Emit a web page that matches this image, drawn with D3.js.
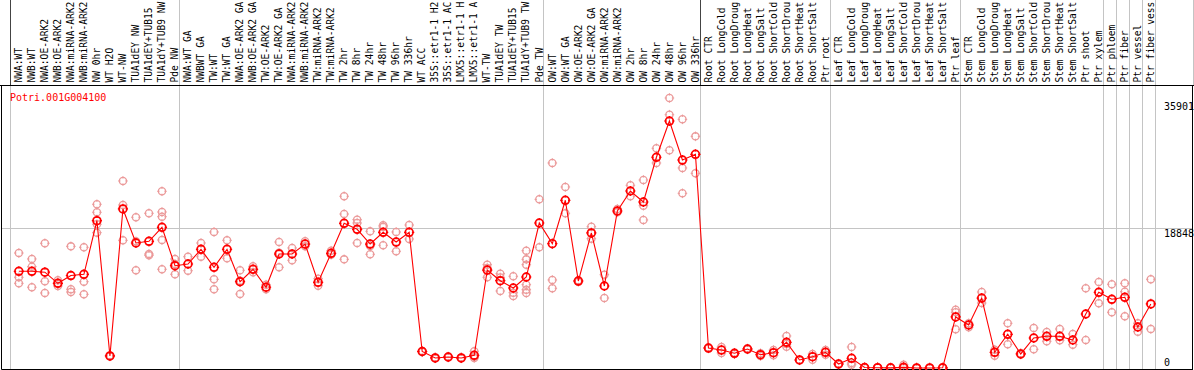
<!DOCTYPE html>
<html><head><meta charset="utf-8">
<script src="https://cdn.jsdelivr.net/npm/d3@7"></script>
<style>
body{margin:0;background:#fff;}
svg{display:block;}
text{font-family:"DejaVu Sans Mono","Liberation Mono",monospace;font-size:10px;}
</style>
</head><body>
<svg id="chart" width="1194" height="370"></svg>
<script>
const title = "Potri.001G004100";

const categories = [
"NWA:WT","NWB:WT","NWA:OE-ARK2","NWB:OE-ARK2","NWA:miRNA-ARK2","NWB:miRNA-ARK2","NW 0hr","WT H2O","WT-NW","TUA1dEY NW",
"TUA1dEY+TUB15 NW","TUA1dY+TUB9 NW","Pde NW",
"NWA:WT GA","NWBWT GA","TW:WT","TW:WT GA","NWA:OE-ARK2 GA","NWB:OE-ARK2 GA","TW:OE-ARK2","TW:OE-ARK2 GA",
"NWA:miRNA-ARK2 GA","NWB:miRNA-ARK2 GA","TW:miRNA-ARK2","TW:miRNA-ARK2 GA","TW 2hr","TW 8hr","TW 24hr","TW 48hr","TW 96hr","TW 336hr",
"WT ACC","35S::etr1-1 H2O","35S::etr1-1 ACC","LMX5::etr1-1 H2O","LMX5::etr1-1 ACC","WT-TW","TUA1dEY TW","TUA1dEY+TUB15 TW","TUA1dY+TUB9 TW","Pde TW",
"OW:WT","OW:WT GA","OW:OE-ARK2","OW:OE-ARK2 GA","OW:miRNA-ARK2","OW:miRNA-ARK2 GA","OW 2hr","OW 8hr","OW 24hr","OW 48hr","OW 96hr","OW 336hr",
"Root CTR","Root LongCold","Root LongDrought","Root LongHeat","Root LongSalt","Root ShortCold","Root ShortDrought","Root ShortHeat","Root ShortSalt","Ptr root",
"Leaf CTR","Leaf LongCold","Leaf LongDrought","Leaf LongHeat","Leaf LongSalt","Leaf ShortCold","Leaf ShortDrought","Leaf ShortHeat","Leaf ShortSalt","Ptr leaf",
"Stem CTR","Stem LongCold","Stem LongDrought","Stem LongHeat","Stem LongSalt","Stem ShortCold","Stem ShortDrought","Stem ShortHeat","Stem ShortSalt","Ptr shoot","Ptr xylem",
"Ptr phloem","Ptr fiber","Ptr vessel","Ptr fiber vessel"
];

const means = [
13020,13020,12900,11400,12450,12610,19830,1620,21410,16830,
17060,18940,13770,14000,15980,13560,15980,11620,13290,10870,
15350,15350,16690,11540,15440,19480,18670,16690,18270,16960,
18270,2220,1350,1480,1350,1710,13190,11750,10770,12250,
19520,16740,22580,11710,18180,11040,21140,23830,22350,28370,
33250,28000,28770,2690,2420,1980,2560,1790,2060,3460,
1080,1520,2110,540,1310,60,40,20,90,10,
10,30,6870,5790,9420,2110,4540,1890,4040,4270,
4270,3770,7270,10190,9250,9520,5520,8620
];

const replicates = [
[15480,12210,11400],[14680,13640,10870],[16790,11670,10100],[11810,11400,11040],[16380,10600,10230],
[16250,11620,9920],[22040,20960,19350,18220],[1680,1560],[25180,21950,17190],[20290,13150,17050],
[20830,15350,15170],[23790,21000,20370,17230,13290],[14680,12620,13990],[14980,13100],[16830,14980],
[18310,11940,10600],[17190,14770],[13150,9960,11740],[13690,12880],[11220,10600],
[16960,13560,15500],[16160,14500],[17060,16380],[12020,11080],[15790,15250],
[23120,20730,14630],[19970,19520,16830],[18400,16430,15310],[19210,19000,16520],[18310,15710],
[19250,17370],[2300,2150],[1400,1300],[1550,1420],[1400,1300],
[2250,1350,1530],[13910,12210,13450],[12700,10370,12190],[12350,10140,9690],[15790,14630,13910,11220,10540,10100],
[22710,16250],[27600,11850,10730],[24370,20830],[11800,11600],[19020,17410],
[12560,9420],[21410,20960],[24600,23120],[25310,21850,19930],[29580,27600],
[36350,34100,29310],[33480,26930,23520],[31190,26210],[2750,2630],[2020,2830],
[2050,1900],[2620,2500],[1980,1620],[2420,1710],[4310,2870,3230],
[1120,1030],[1890,1120],[2420,1790],[600,480],[2830,440,670],
[100,20],[60,80],[30,10],[440,0],[20,10],
[10,20],[50,20],[7850,7500,5210],[6020,5480],[10230,8750],
[2460,1660],[6020,3190],[1950,1820],[5390,2520],[4850,3600],
[5250,3730],[4580,3140],[10730,3770],[11580,8710],[11270,7500],
[11400,10270,6960],[6020,4890],[11940,5250]
];

// index of the first category of each group (last = end)
const groupStarts = [0,13,41,53,63,73,84,85,86,87,88];
const darkHeaderBreaks = [0,53];
const yTicks = [0,18848,35901];
const headerChars = 14; // the header column shows this many characters

const svg = d3.select("#chart");
const plotTop = 85.5, plotBottom = 369.5, plotLeft = 1.5, plotRight = 1192.5;

const x = d3.scaleBand().domain(d3.range(categories.length)).range([10,1155]).paddingInner(0).paddingOuter(0);
const bw = x.bandwidth();
const px = i => x(i) + bw*0.68;
const bx = k => k >= categories.length ? 1155 : x(k);

const y = d3.scaleLinear().domain([0,18848]).range([368,228]);

// gridline
svg.append("line").attr("x1",plotLeft).attr("x2",plotRight)
  .attr("y1",Math.round(y(18848))+0.5).attr("y2",Math.round(y(18848))+0.5)
  .attr("stroke","#c4c4c4").attr("stroke-width",1);

// group separators
groupStarts.forEach(k=>{
  const xx = Math.round(bx(k))+0.5;
  svg.append("line").attr("x1",xx).attr("x2",xx).attr("y1",plotTop).attr("y2",plotBottom)
    .attr("stroke","#c4c4c4").attr("stroke-width",1);
  svg.append("line").attr("x1",xx).attr("x2",xx).attr("y1",0).attr("y2",plotTop)
    .attr("stroke", darkHeaderBreaks.includes(k) ? "#444" : "#c4c4c4").attr("stroke-width",1);
});
svg.append("line").attr("x1",1193.5).attr("x2",1193.5).attr("y1",0).attr("y2",plotTop)
  .attr("stroke","#c4c4c4");

// header labels
svg.append("g").selectAll("text").data(categories).join("text")
  .attr("transform",(d,i)=>`translate(${px(i)+3.2},82.5) rotate(-90)`)
  .attr("fill","#000")
  .style("font-size","9.6px")
  .text(d=> d.length > headerChars ? d.slice(0,headerChars) : d);

// frame
svg.append("line").attr("x1",0).attr("x2",1194).attr("y1",plotTop).attr("y2",plotTop).attr("stroke","#000");
svg.append("line").attr("x1",plotLeft).attr("x2",plotLeft).attr("y1",plotTop).attr("y2",plotBottom).attr("stroke","#000");
svg.append("line").attr("x1",plotLeft).attr("x2",plotRight+0.5).attr("y1",plotBottom).attr("y2",plotBottom).attr("stroke","#000");
svg.append("line").attr("x1",plotRight).attr("x2",plotRight).attr("y1",plotTop).attr("y2",plotBottom).attr("stroke","#000");

// y labels
svg.append("g").selectAll("text").data(yTicks).join("text")
  .attr("x",1164)
  .attr("y",d=> d===0 ? y(d)-2 : y(d)+8.8)
  .attr("fill","#000")
  .text(d=>d);

// title
svg.append("text").attr("x",10).attr("y",100.5).attr("fill","#ff0000").text(title);

function ticks(g, color, r, w){
  g.append("path")
    .attr("d", d=>{
      const cx=d.x, cy=d.y;
      return `M${cx},${cy-r-1.2}v2.4M${cx},${cy+r-1.2}v2.4M${cx-r-1.2},${cy}h2.4M${cx+r-1.2},${cy}h2.4`;
    })
    .attr("stroke",color).attr("stroke-width",w).attr("fill","none");
}

// replicates
const repPts = [];
replicates.forEach((arr,i)=>arr.forEach(v=>repPts.push({x:px(i), y:y(v)})));
const rg = svg.append("g").selectAll("g").data(repPts).join("g");
rg.append("circle").attr("cx",d=>d.x).attr("cy",d=>d.y).attr("r",3.6)
  .attr("fill","none").attr("stroke","#eb9a9a").attr("stroke-width",1.3);
ticks(rg,"#eb9a9a",3.6,1);

// mean line
svg.append("path").datum(means)
  .attr("d", d3.line().x((d,i)=>px(i)).y(d=>y(d)))
  .attr("fill","none").attr("stroke","#ff0000").attr("stroke-width",1.1);

// means
const meanPts = means.map((v,i)=>({x:px(i), y:y(v)}));
const mg = svg.append("g").selectAll("g").data(meanPts).join("g");
mg.append("circle").attr("cx",d=>d.x).attr("cy",d=>d.y).attr("r",3.9)
  .attr("fill","none").attr("stroke","#ff0000").attr("stroke-width",1.7);
ticks(mg,"#ff0000",3.9,1.2);
</script>
</body></html>
